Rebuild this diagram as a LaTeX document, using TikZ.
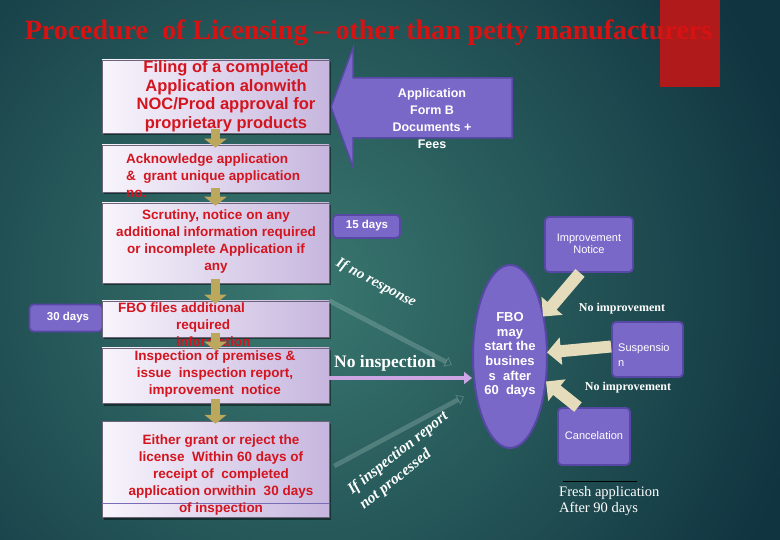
\documentclass[tikz,border=0pt]{standalone}
\usepackage{fontspec}
\setmainfont{Liberation Serif}
\setsansfont{Liberation Sans}
\usetikzlibrary{shadows,shapes.geometric,arrows.meta,calc}
\definecolor{bgdark}{RGB}{16,52,64}
\definecolor{bglight}{RGB}{58,120,112}
\definecolor{titlered}{RGB}{215,18,18}
\definecolor{boxred}{RGB}{212,20,30}
\definecolor{redblock}{RGB}{176,26,26}
\definecolor{purp}{RGB}{122,104,200}
\definecolor{purpdk}{RGB}{88,72,165}
\definecolor{lavL}{RGB}{248,245,252}
\definecolor{lavR}{RGB}{198,182,222}
\definecolor{khaki}{RGB}{188,168,92}
\definecolor{beige}{RGB}{228,220,186}
\definecolor{lavarrow}{RGB}{205,165,228}
\begin{document}
\begin{tikzpicture}[x=1pt,y=-1pt,
  box/.style={draw=lavR!55!black, line width=0.5pt, left color=lavL, right color=lavR, inner sep=0pt,
    drop shadow={shadow xshift=1.5pt, shadow yshift=-2.5pt, fill=black, opacity=0.45}},
  boxtxt/.style={text=boxred, font=\sffamily\bfseries\fontsize{13.5}{17}\selectfont, inner sep=0pt},
  pbox/.style={draw=purpdk, line width=1.8pt, fill=purp, rounded corners=4pt, inner sep=0pt},
  wsans/.style={text=white, font=\sffamily\fontsize{11}{12.5}\selectfont, inner sep=0pt},
  wbold/.style={text=white, font=\sffamily\bfseries\fontsize{11.5}{13}\selectfont, inner sep=0pt},
  wserif/.style={text=white, font=\bfseries\fontsize{12}{14}\selectfont, inner sep=0pt},
  karrow/.style={draw=khaki, line width=9pt, -{Triangle[length=9pt,width=22pt]}, shorten <=-4pt, shorten >=-3pt},
  barrow/.style={draw=beige, line width=12pt, -{Triangle[length=14pt,width=27pt]}},
  faint/.style={draw=white, line width=0.8pt, double=bglight, double distance=3pt, opacity=0.2, -{Triangle[length=7pt,width=11pt,open]}}
]
\useasboundingbox (0,0) rectangle (780,540);
% background
\fill[bgdark] (0,0) rectangle (780,540);
\begin{scope}
\clip (0,0) rectangle (780,540);
\shade[inner color=bglight, outer color=bgdark] (300,290) circle (520);
\end{scope}
% red block and title
\fill[redblock] (660,0) rectangle (720,87);
\node[text=titlered, font=\bfseries\fontsize{28}{30}\selectfont, inner sep=0pt] (title) at (368.5,33)
  {Procedure\ \ of Licensing -- other than petty manufacturers};

% big purple block arrow
\draw[purpdk, line width=1.5pt, fill=purp, line join=miter]
  (331,107) -- (353,48) -- (353,78) -- (512,78) -- (512,138) -- (353,138) -- (353,167) -- cycle;
\node[wbold, font=\sffamily\bfseries\fontsize{12.5}{17}\selectfont, align=center] (form) at (432,118.5)
  {Application\\Form B\\Documents +\\Fees};

% side purple boxes
\node[pbox, minimum width=73pt, minimum height=27pt] (d30) at (66,318) {};
\node[wbold] (d30t) at (68,318) {30 days};
\node[pbox, minimum width=67pt, minimum height=23pt] (d15) at (366.5,226.5) {};
\node[wbold] (d15t) at (367,226) {15 days};

% process boxes
\node[box, minimum width=227pt, minimum height=73pt] (b1) at (215.5,96.5) {};
\node[box, minimum width=227pt, minimum height=47pt] (b2) at (215.5,168.5) {};
\node[box, minimum width=227pt, minimum height=80pt] (b3) at (215.5,243) {};
\node[box, minimum width=227pt, minimum height=36pt] (b4) at (215.5,319) {};
\node[box, minimum width=227pt, minimum height=55pt] (b5) at (215.5,375.5) {};
\node[box, minimum width=227pt, minimum height=96pt] (b6) at (215.5,469) {};
\draw[purpdk!80, line width=0.8pt] ($(b6.south west)+(0,-14)$) -- ($(b6.south east)+(0,-14)$);

\node[boxtxt, font=\sffamily\bfseries\fontsize{16.5}{18.5}\selectfont, align=center] (t1) at (226,96)
  {Filing of a completed\\Application alonwith\\NOC/Prod approval for\\proprietary products};
\node[boxtxt, align=left, anchor=west] (t2) at (126,176)
  {Acknowledge application\\\&\ \ grant unique application\\no.};
\node[boxtxt, align=center] (t3) at (216,242)
  {Scrutiny, notice on any\\additional information required\\or incomplete Application if\\any};
\node[boxtxt, align=left, anchor=west] (t4) at (118,325)
  {FBO files additional\\\hspace*{58pt}required\\\hspace*{58pt}information};
\node[boxtxt, align=center] (t5) at (215,374)
  {Inspection of premises \&\\issue\ \ inspection report,\\improvement\ \ notice};
\node[boxtxt, align=center] (t6) at (221,475)
  {Either grant or reject the\\license\ \ Within 60 days of\\receipt of\ \ completed\\application orwithin\ \ 30 days\\of inspection};

% khaki down arrows
\draw[karrow] (b1.south) -- (b2.north);
\draw[karrow] (b2.south) -- (b3.north);
\draw[karrow] (b3.south) -- (b4.north);
\draw[karrow] (b4.south) -- (b5.north);
\draw[karrow] (b5.south) -- (b6.north);

% FBO ellipse and right boxes
\node[ellipse, fill=purp, draw=purpdk, line width=2pt, minimum width=74pt, minimum height=183pt, inner sep=0pt] (fbo) at (510,356.5) {};
\node[wbold, font=\sffamily\bfseries\fontsize{13}{14.6}\selectfont, align=center] (fbot) at (510,355)
  {FBO\\may\\start the\\busines\\s\ \ after\\60\ \ days};
\node[pbox, minimum width=88pt, minimum height=55pt] (imp) at (589,244.5) {};
\node[wsans, align=center] (impt) at (589,244) {Improvement\\Notice};
\node[pbox, minimum width=71pt, minimum height=55pt] (susp) at (647.5,349.5) {};
\node[wsans, align=left, anchor=west, font=\sffamily\fontsize{11}{15}\selectfont] (suspt) at (618,355) {Suspensio\\n};
\node[pbox, minimum width=72pt, minimum height=57pt] (canc) at (594,436.5) {};
\node[wsans] (canct) at (594,436) {Cancelation};

% beige arrows into the ellipse
\draw[barrow] ($(imp.south)+(-9,0)$) -- ($(fbo.center)+(33,-40)$);
\draw[barrow] ($(susp.west)+(0,-3)$) -- ($(fbo.center)+(37,-4)$);
\draw[barrow] ($(canc.north)+(-16,0)$) -- ($(fbo.center)+(36,25)$);
\node[wserif] (ni1) at (622,309) {No improvement};
\node[wserif] (ni2) at (628,388) {No improvement};

% no inspection arrow
\coordinate (nia) at ($(b5.east)+(0,2.5)$);
\draw[lavarrow, line width=4pt, -{Triangle[length=8pt,width=12pt]}] (nia) -- (nia -| fbo.west);
\node[wserif, font=\bfseries\fontsize{17.5}{19}\selectfont] (noinsp) at (385,363) {No inspection};

% faint arrows and rotated labels
\draw[faint] (b4.north east) -- ($(fbo.west)+(-20,8.5)$);
\draw[faint] ($(b6.east)+(5,-3)$) -- ($(fbo.west)+(-8,40)$);
\node[wserif, font=\bfseries\itshape\fontsize{15}{17}\selectfont, rotate=-28] (nores) at (376,283) {If no response};
\node[wserif, font=\bfseries\itshape\fontsize{15.5}{19}\selectfont, rotate=38.5, align=left] (inrep) at (404,461)
  {If inspection report\\not processed};

% fresh application
\draw[black, line width=0.8pt] ($(canc.south west)+(6,15)$) -- ($(canc.south east)+(6,15)$);
\node[text=white, font=\fontsize{14.5}{16}\selectfont, align=left, anchor=west, inner sep=0pt] (fresh) at (559,501)
  {Fresh application\\After 90 days};
\end{tikzpicture}
\end{document}
